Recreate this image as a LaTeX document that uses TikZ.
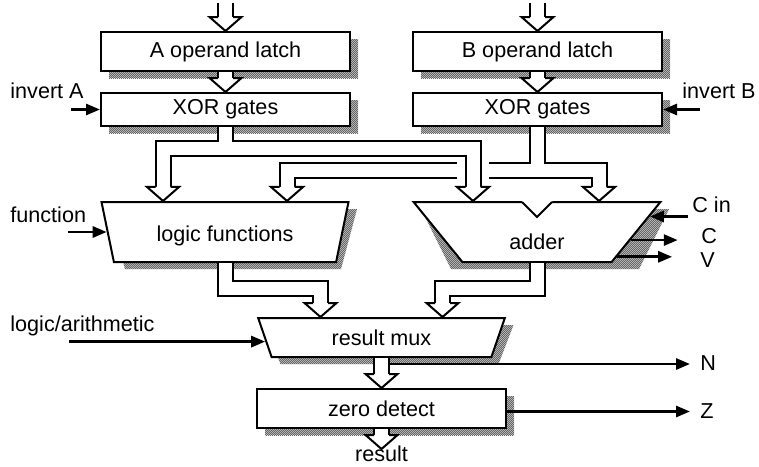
\documentclass[tikz,border=0pt]{standalone}
\usepackage{fontspec}
\setmainfont{Liberation Sans}
\usetikzlibrary{arrows.meta,positioning,calc,shapes.geometric,patterns}
\newcommand{\alufont}{\fontsize{10.8pt}{13pt}\selectfont}
% fine checker stipple for the drop shadows
\pgfdeclarepatternformonly{stipple}{\pgfqpoint{0pt}{0pt}}{\pgfqpoint{1.2pt}{1.2pt}}{\pgfqpoint{1.2pt}{1.2pt}}{%
  \pgfpathrectangle{\pgfqpoint{0pt}{0pt}}{\pgfqpoint{0.6pt}{0.6pt}}%
  \pgfpathrectangle{\pgfqpoint{0.6pt}{0.6pt}}{\pgfqpoint{0.6pt}{0.6pt}}%
  \pgfusepath{fill}}
% hollow bus arrow head, tip at #1, pointing down
\newcommand{\bushead}[1]{%
  \fill[white] ($(#1)+(-15,-14)$) -- (#1) -- ($(#1)+(15,-14)$) -- cycle;
  \draw[line width=1pt] ($(#1)+(-7.5,-14)$) -- ($(#1)+(-16,-14)$) -- (#1)
    -- ($(#1)+(16,-14)$) -- ($(#1)+(7.5,-14)$);}
\tikzset{
  block/.style={
    rectangle,
    draw,
    line width=1pt,
    fill=white,
    align=center,
    minimum width=124.5pt,
    inner sep=0pt,
    font=\alufont
  },
  latch/.style={block, minimum height=19.5pt},
  gates/.style={block, minimum height=16.5pt},
  unit/.style={
    trapezium,
    trapezium stretches=true,
    draw,
    line width=1pt,
    fill=white,
    minimum width=124pt,
    minimum height=30pt,
    inner sep=0pt,
    font=\alufont
  },
  shadowfill/.style={preaction={fill=black!25}, pattern=stipple, pattern color=black!60},
  bus/.style={draw=white, line width=6.5pt, preaction={draw=black, line width=8.5pt}},
  ctrl/.style={line width=1.4pt, -{Triangle[length=7pt,width=5.5pt]}},
  sig/.style={font=\alufont, inner sep=0pt}
}
\begin{document}
\begin{tikzpicture}[x=0.5pt, y=-0.5pt]
  \useasboundingbox (0,0) rectangle (759,466);

  % drop shadows, drawn first so the blocks sit on top
  \path[shadowfill] (109,39) rectangle (358,78);
  \path[shadowfill] (421,39) rectangle (670,78);
  \path[shadowfill] (109,100) rectangle (358,133);
  \path[shadowfill] (421,100) rectangle (670,133);
  \path[shadowfill] (109,209) -- (357,209) -- (341,269) -- (125,269) -- cycle;
  \path[shadowfill] (421,209) -- (669,209) -- (639,269) -- (451,269) -- cycle;
  \path[shadowfill] (265.5,325) -- (513.5,325) -- (498.5,364) -- (280.5,364) -- cycle;
  \path[shadowfill] (265,396) rectangle (514,435);

  \node[latch] (latchA) at (225.5,51.5) {A operand latch};
  \node[latch, right=30.5pt of latchA] (latchB) {B operand latch};
  \node[gates, below=10pt of latchA] (xorA) {XOR gates};
  \node[gates, below=10pt of latchB] (xorB) {XOR gates};
  \node[unit, trapezium left angle=105, trapezium right angle=105, text height=12pt] (logic) at (225,232) {logic functions};
  \node[unit, trapezium left angle=116.5, trapezium right angle=116.5, text height=18pt] (adder) at (537,232) {adder};
  \node[unit, trapezium left angle=111, trapezium right angle=111, minimum height=19.5pt] (mux) at (381.5,337.5) {result mux};
  \node[latch, below=15pt of mux] (zero) {zero detect};

  % notch in the adder
  \fill[white] ($(adder.north)+(-16,-0.5)$) -- ($(adder.north)+(16,-0.5)$) -- ($(adder.north)+(0,15.5)$) -- cycle;
  \draw[line width=1pt] ($(adder.north)+(-15,1)$) -- ($(adder.north)+(0,16)$) -- ($(adder.north)+(15,1)$);

  \coordinate (ain) at ($(latchA.north)+(0,-28)$);
  \coordinate (bin) at ($(latchB.north)+(0,-28)$);
  \coordinate (aL) at ($(logic.north)+(-62,0)$);
  \coordinate (bL) at ($(logic.north)+(62,0)$);
  \coordinate (aR) at ($(adder.north)+(-64,0)$);
  \coordinate (bR) at ($(adder.north)+(62,0)$);
  \coordinate (lm) at ($(mux.north)+(-61,0)$);
  \coordinate (am) at ($(mux.north)+(61,0)$);
  \coordinate (rout) at ($(zero.south)+(0,20)$);
  \coordinate (ajn) at ($(xorA.south)+(0,21.5)$);
  \coordinate (bjn) at ($(xorB.south)+(0,43.5)$);
  \coordinate (gapL) at ($(aR |- bjn)+(-16,0)$);
  \coordinate (gapR) at ($(aR |- bjn)+(16,0)$);

  % buses
  \draw[bus] (ain) -- ($(latchA.north)+(0,-14)$);
  \draw[bus] (bin) -- ($(latchB.north)+(0,-14)$);
  \draw[bus] (latchA.south) -- ($(xorA.north)+(0,-14)$);
  \draw[bus] (latchB.south) -- ($(xorB.north)+(0,-14)$);
  \draw[bus] (xorB.south) -- (bjn) -| ($(bR)+(0,-14)$)
             (bjn) -- (gapR)
             (gapL) -| ($(bL)+(0,-14)$);
  \draw[bus] (xorA.south) -- (ajn) -| ($(aL)+(0,-14)$)
             (ajn) -| ($(aR)+(0,-14)$);
  \draw[bus] (logic.south) -- ++(0,25) -| ($(lm)+(0,-14)$);
  \draw[bus] (adder.south) -- ++(0,25) -| ($(am)+(0,-14)$);
  \draw[bus] (mux.south) -- ($(zero.north)+(0,-14)$);
  \draw[bus] (zero.south) -- ($(rout)+(0,-14)$);
  \foreach \tip in {latchA.north, latchB.north, xorA.north, xorB.north, aL, bL, aR, bR, lm, am, zero.north, rout}
    \bushead{\tip};

  % control and flag signals
  \node[sig, anchor=base west] (invAlab) at (10,98) {invert A};
  \node[sig, anchor=base west] (invBlab) at (682,98) {invert B};
  \node[sig, anchor=base west] (fnlab) at (10,222) {function};
  \node[sig, anchor=base west] (lalab) at (10,331) {logic/arithmetic};
  \node[sig, anchor=base west] (cinlab) at (692,212) {C in};
  \node[sig, anchor=base west] (clab) at (701,243) {C};
  \node[sig, anchor=base west] (vlab) at (700,267) {V};
  \node[sig, anchor=base west] (nlab) at (700,370) {N};
  \node[sig, anchor=base west] (zlab) at (700,418) {Z};
  \node[sig, below=-2pt of rout] (result) {result};

  \coordinate (invAin) at ($(xorA.west)+(-29,0)$);
  \coordinate (invBin) at ($(xorB.east)+(37,0)$);
  \coordinate (fnin) at ($(logic.west)+(-39,0)$);
  \coordinate (mxsel) at ($(mux.top left corner)!0.6!(mux.bottom left corner)$);
  \coordinate (lain) at ($(mxsel)+(-196,0)$);
  \coordinate (cintip) at ($(adder.top right corner)!0.25!(adder.bottom right corner)$);
  \coordinate (cinin) at ($(cintip)+(38,0)$);
  \coordinate (ctap) at ($(adder.top right corner)!0.63!(adder.bottom right corner)$);
  \coordinate (cout) at ($(ctap)+(47,0)$);
  \coordinate (vtap) at ($(adder.top right corner)!0.9!(adder.bottom right corner)$);
  \coordinate (vout) at ($(vtap)+(55,0)$);
  \coordinate (ntap) at ($(mux.south)+(7.5,6)$);
  \coordinate (nout) at ($(ntap)+(301,0)$);
  \coordinate (ztap) at ($(zero.east)+(0,3)$);
  \coordinate (zout) at ($(ztap)+(183,0)$);

  \draw[ctrl] (invAin) -- (xorA.west);
  \draw[ctrl] (invBin) -- (xorB.east);
  \draw[ctrl] (fnin) -- (logic.west);
  \draw[ctrl] (lain) -- (mxsel);
  \draw[ctrl] (cinin) -- (cintip);
  \draw[ctrl] (ctap) -- (cout);
  \draw[ctrl] (vtap) -- (vout);
  \draw[ctrl] (ntap) -- (nout);
  \draw[ctrl] (ztap) -- (zout);
\end{tikzpicture}
\end{document}
